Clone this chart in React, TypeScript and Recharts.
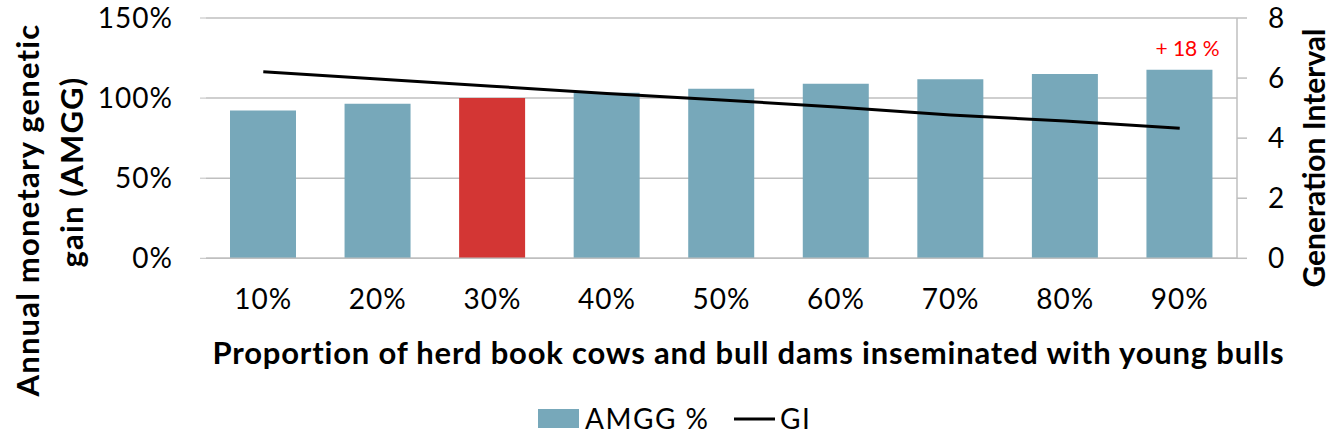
import React from 'react';
import { ComposedChart, Bar, Line, XAxis, YAxis, CartesianGrid, Legend, Cell, LabelList, Label } from 'recharts';

const categories = ['10%', '20%', '30%', '40%', '50%', '60%', '70%', '80%', '90%'];
const amgg = [0.923, 0.964, 1.0, 1.033, 1.058, 1.089, 1.117, 1.15, 1.177];
const gi = [6.21, 5.97, 5.73, 5.49, 5.27, 5.04, 4.77, 4.57, 4.33];
const notes = ['', '', '', '', '', '', '', '', '+ 18 %'];
const leftTicks = [0, 0.5, 1, 1.5];
const rightTicks = [0, 2, 4, 6, 8];
const highlightIndex = 2;

const BAR_COLOR = '#77A8BA';
const RED = '#D33634';
const GRID = '#BFBFBF';
const FONT = 'Lato, "Open Sans", sans-serif';

const data = categories.map((c, i) => ({ cat: c, amgg: amgg[i], gi: gi[i], note: notes[i] }));

const pct = (v: number) => `${Math.round(v * 100)}%`;

const NoteLabel = (props: any) => {
  const { x, y, width, value } = props;
  if (!value) return null;
  return (
    <text x={x + width / 2 + 8} y={y - 14} textAnchor="middle" fill="#FF0000" fontFamily={FONT} fontSize={21}>
      {value}
    </text>
  );
};

const XTitle = (props: any) => {
  const vb = props.viewBox;
  return (
    <text x={vb.x + vb.width / 2 + 27} y={vb.y + 106} textAnchor="middle" fontFamily={FONT} fontWeight={700} fontSize={31} letterSpacing={0.8} fill="#000">
      Proportion of herd book cows and bull dams inseminated with young bulls
    </text>
  );
};

const LeftTitle = () => (
  <g>
    <text x={39} y={210} transform="rotate(-90, 39, 210)" textAnchor="middle" fontFamily={FONT} fontWeight={700} fontSize={31} letterSpacing={1.2} fill="#000">
      Annual monetary genetic
    </text>
    <text x={83} y={172} transform="rotate(-90, 83, 172)" textAnchor="middle" fontFamily={FONT} fontWeight={700} fontSize={31} letterSpacing={1.2} fill="#000">
      gain (AMGG)
    </text>
  </g>
);

const RightTitle = () => (
  <text x={1325} y={158} transform="rotate(-90, 1325, 158)" textAnchor="middle" fontFamily={FONT} fontWeight={700} fontSize={30} fill="#000">
    Generation Interval
  </text>
);

const LegendContent = (props: any) => {
  const payload = props.payload || [];
  const bar = payload.find((p: any) => p.dataKey === 'amgg');
  const line = payload.find((p: any) => p.dataKey === 'gi');
  return (
    <svg width={1337} height={36} style={{ display: 'block' }}>
      <rect x={538} y={9} width={41} height={19} fill={BAR_COLOR} />
      <text x={585} y={29} fontFamily={FONT} fontSize={28} letterSpacing={1.5} fill="#000">{bar ? bar.value : 'AMGG %'}</text>
      <line x1={734} x2={775} y1={19} y2={19} stroke="#000" strokeWidth={3} />
      <text x={780} y={29} fontFamily={FONT} fontSize={28} letterSpacing={1.5} fill="#000">{line ? line.value : 'GI'}</text>
    </svg>
  );
};

export default function App() {
  return (
    <div style={{ position: 'absolute', left: 0, top: 0, width: 1337, height: 446, background: '#fff' }}>
      <ComposedChart width={1337} height={446} data={data} margin={{ top: 18, right: 0, bottom: 0, left: 0 }} barSize={66}>
        <CartesianGrid yAxisId="left" vertical={false} stroke={GRID} strokeWidth={1.5} />
        <XAxis
          dataKey="cat"
          height={151.7}
          tickSize={0}
          tickMargin={31}
          axisLine={{ stroke: GRID, strokeWidth: 1.5 }}
          tickLine={false}
          tick={{ fontFamily: FONT, fontSize: 28, letterSpacing: 1, fill: '#000' }}
          interval={0}
        >
          <Label content={<XTitle />} />
        </XAxis>
        <YAxis
          yAxisId="left"
          width={206}
          domain={[0, 1.5]}
          ticks={leftTicks}
          tickFormatter={pct}
          axisLine={false}
          tickSize={6}
          tickMargin={27}
          tickLine={{ stroke: GRID }}
          tick={{ fontFamily: FONT, fontSize: 28, letterSpacing: 1, fill: '#000' }}
        />
        <YAxis
          yAxisId="right"
          orientation="right"
          width={100}
          domain={[0, 8]}
          ticks={rightTicks}
          axisLine={{ stroke: GRID, strokeWidth: 1.5 }}
          tickSize={10}
          tickMargin={21}
          tickLine={{ stroke: GRID, strokeWidth: 1.5 }}
          tick={{ fontFamily: FONT, fontSize: 28, fill: '#000' }}
        />
        <Bar yAxisId="left" dataKey="amgg" name="AMGG %" fill={BAR_COLOR} isAnimationActive={false}>
          {data.map((d, i) => (
            <Cell key={d.cat} fill={i === highlightIndex ? RED : BAR_COLOR} />
          ))}
          <LabelList dataKey="note" content={<NoteLabel />} />
        </Bar>
        <Line yAxisId="right" dataKey="gi" name="GI" stroke="#000" strokeWidth={3} dot={false} type="linear" isAnimationActive={false} />
        <Legend
          verticalAlign="bottom"
          content={<LegendContent />}
          wrapperStyle={{ position: 'absolute', top: 400, left: 0, width: 1337, height: 36 }}
        />
        <LeftTitle />
        <RightTitle />
      </ComposedChart>
    </div>
  );
}
